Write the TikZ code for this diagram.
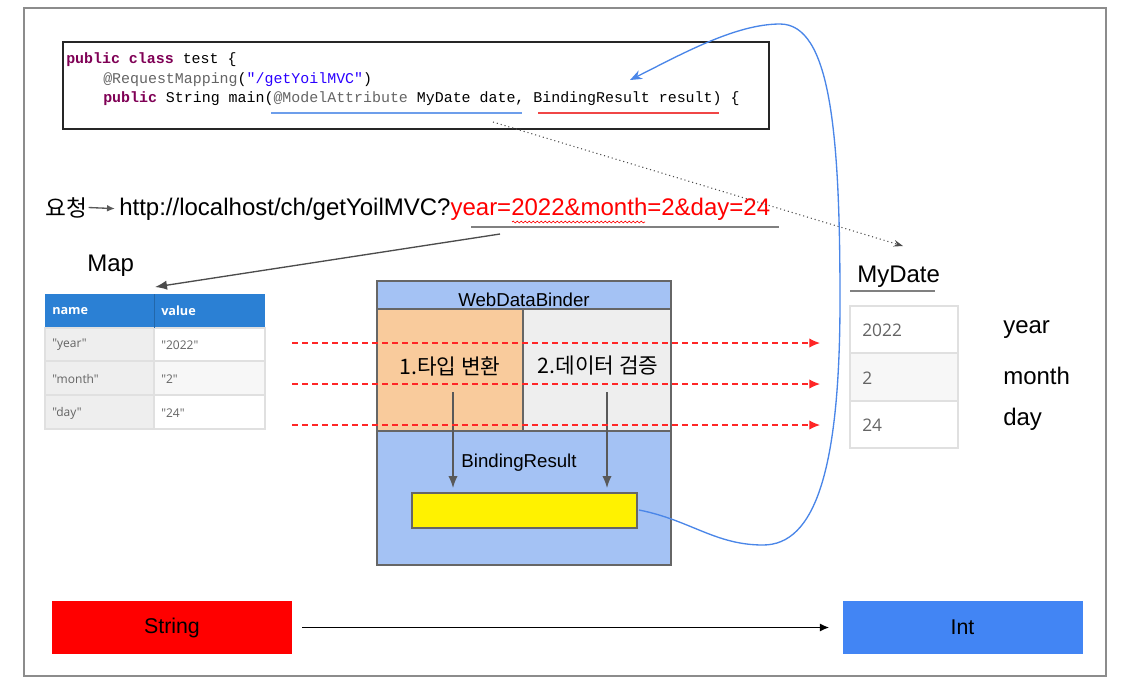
\documentclass[tikz,border=0pt]{standalone}
\usepackage{fontspec}
\setmainfont{Liberation Sans}
\setmonofont{Liberation Mono}
\newfontfamily\kor{Noto Sans CJK KR}
\newfontfamily\opensans{Open Sans}
\usepackage{tikz}
\usetikzlibrary{arrows.meta}
\usetikzlibrary{decorations.pathmorphing}
\definecolor{binderblue}{RGB}{164,194,244}
\definecolor{convorange}{RGB}{249,203,156}
\definecolor{checkgray}{RGB}{238,238,238}
\definecolor{tblue}{RGB}{43,128,212}
\definecolor{intblue}{RGB}{66,133,244}
\definecolor{keyword}{RGB}{127,0,85}
\definecolor{annot}{RGB}{100,100,100}
\definecolor{strblue}{RGB}{42,0,255}
\definecolor{linkblue}{RGB}{74,134,232}
\definecolor{ulblue}{RGB}{109,158,235}
\definecolor{ulred}{RGB}{240,70,70}
\definecolor{cellline}{RGB}{224,224,224}
\definecolor{celltext}{RGB}{100,100,100}
\definecolor{urlred}{RGB}{255,0,0}
\newcommand\codekw[1]{\textcolor{keyword}{\bfseries #1}}
\tikzset{bigtxt/.style={font=\fontsize{18}{21}\selectfont, inner sep=0pt}}
\tikzset{midtxt/.style={font=\fontsize{14}{17}\selectfont, inner sep=0pt}}
\tikzset{kortxt/.style={font=\kor\fontsize{16}{19}\selectfont, inner sep=0pt}}
\tikzset{codeline/.style={font=\ttfamily\fontsize{11.2}{13}\selectfont, anchor=base west, inner sep=0pt}}
\tikzset{celltxt/.style={font=\opensans\fontsize{9}{11}\selectfont, text=celltext, anchor=west, inner sep=0pt}}
\tikzset{valtxt/.style={font=\opensans\fontsize{13}{15}\selectfont, text=celltext, anchor=west, inner sep=0pt}}
\tikzset{boxline/.style={draw=black!60, line width=1pt}}
\tikzset{grayarrow/.style={-{Latex[length=9pt,width=7pt]}, draw=black!65, line width=1pt}}
\tikzset{redflow/.style={-{Latex[length=8pt,width=7pt]}, draw=urlred!85, dashed, dash pattern=on 4.5pt off 3pt, line width=0.9pt}}
\tikzset{typebox/.style={minimum width=180pt, minimum height=39.75pt, inner sep=0pt, font=\fontsize{16}{19}\selectfont}}

\begin{document}
\begin{tikzpicture}[x=0.75pt,y=-0.75pt]
		\useasboundingbox (0,0) rectangle (1131,687);
		\draw[draw=black!45, line width=0.8pt] (24,8) rectangle (1106,676);
		% code
		\draw[draw=black!85, line width=1.2pt] (63,42) rectangle (769,129);
		\node[codeline] (codeA) at (66,63) {\codekw{public class} test \{};
		\node[codeline] (codeB) at (103,83) {\textcolor{annot}{@RequestMapping}(\textcolor{strblue}{"/getYoilMVC"})};
		\node[codeline] (codeC) at (103,102) {\codekw{public} String main(\textcolor{annot}{@ModelAttribute} MyDate date, BindingResult result) \{};
		\draw[ulblue, line width=1.3pt] (271,113) -- (522,113);
		\draw[ulred, line width=1.3pt] (538,113) -- (719,113);
		\coordinate (codecut) at (493,122);
		\coordinate (resulttip) at (630,80);
		% request
		\node[bigtxt, font=\kor\fontsize{17}{20}\selectfont, anchor=base west] (request) at (45,216) {요청};
		\node[bigtxt, anchor=base west] (url) at (119,215) {http://localhost/ch/getYoilMVC?\textcolor{urlred}{year=2022\&month=2\&day=24}};
		\draw[-{Latex[length=6pt,width=5pt]}, draw=black!65, line width=1pt, shorten <=1pt, shorten >=3pt] (request.east) -- (url.west);
		\draw[urlred, line width=0.5pt, decorate, decoration={snake, amplitude=0.7pt, segment length=3pt}] (512,222) -- (645,222);
		\draw[black!50, line width=1.6pt] (471,227) -- (779,227);
		\coordinate (urlcut) at (500,234);
		% map
		\node[bigtxt, anchor=base west] (maplabel) at (87,271) {Map};
		\coordinate (maptop) at (155,287);
		\draw[grayarrow, draw=black!70] (urlcut) -- (maptop);
		\fill[tblue] (45,294) rectangle (265,328);
		\fill[checkgray] (45,328) rectangle (154,429);
		\fill[black!3] (154,361) rectangle (265,395);
		\draw[cellline, line width=0.8pt] (45,328) rectangle (265,429);
		\draw[cellline, line width=0.8pt] (154,328) -- (154,429);
		\draw[tblue!80!black, line width=0.6pt] (154,294) -- (154,328);
		\draw[cellline, line width=0.8pt] (45,361) -- (265,361);
		\draw[cellline, line width=0.8pt] (45,395) -- (265,395);
		\node[celltxt, text=white, font=\opensans\bfseries\fontsize{9.5}{11}\selectfont] (mapname) at (52,311) {name};
		\node[celltxt, text=white, font=\opensans\bfseries\fontsize{9.5}{11}\selectfont] (mapvalue) at (161,311) {value};
		\node[celltxt] (yearkey) at (52,345) {"year"};
		\node[celltxt] (yearval) at (161,345) {"2022"};
		\node[celltxt] (monthkey) at (52,379) {"month"};
		\node[celltxt] (monthval) at (161,379) {"2"};
		\node[celltxt] (daykey) at (52,413) {"day"};
		\node[celltxt] (dayval) at (161,413) {"24"};
		% binder
		\draw[boxline, fill=binderblue] (377,281) rectangle (671,565);
		\draw[boxline, fill=convorange] (377,309) rectangle (523,431);
		\draw[boxline, fill=checkgray] (523,309) rectangle (671,431);
		\draw[boxline, fill=yellow] (412,493) rectangle (637,528);
		\node[midtxt] (binder) at (524,300) {WebDataBinder};
		\node[kortxt] (convert) at (450,366) {1.타입 변환};
		\node[kortxt] (validate) at (598,366) {2.데이터 검증};
		\node[midtxt] (bindres) at (519,463) {BindingResult};
		\coordinate (convfrom) at (453,392);
		\coordinate (convto) at (453,488);
		\coordinate (checkfrom) at (607,392);
		\coordinate (checkto) at (607,488);
		\draw[grayarrow] (convfrom) -- (convto);
		\draw[grayarrow] (checkfrom) -- (checkto);
		\coordinate (resultbar) at (639,510);
		% flows
		\draw[redflow] (292,343) -- (820,343);
		\draw[redflow] (292,384) -- (820,384);
		\draw[redflow] (292,425) -- (820,425);
		% mydate
		\node[bigtxt, anchor=base west] (mydate) at (857,282) {MyDate};
		\draw[black!50, line width=1.6pt] (850,291) -- (935,291);
		\coordinate (mydatetop) at (903,246);
		\draw[-{Stealth[length=7pt,width=5pt]}, draw=black!70, dash pattern=on 0.8pt off 2.2pt, line width=0.8pt] (codecut) -- (mydatetop);
		\fill[black!3] (850,353) rectangle (958,401);
		\draw[cellline, line width=1pt] (850,306) rectangle (958,448);
		\draw[cellline, line width=1pt] (850,353) -- (958,353);
		\draw[cellline, line width=1pt] (850,401) -- (958,401);
		\node[valtxt] (dateyear) at (862,330) {2022};
		\node[valtxt] (datemonth) at (862,378) {2};
		\node[valtxt] (dateday) at (862,425) {24};
		\node[bigtxt, anchor=base west] (yearlabel) at (1003,333) {year};
		\node[bigtxt, anchor=base west] (monthlabel) at (1003,384) {month};
		\node[bigtxt, anchor=base west] (daylabel) at (1003,425) {day};
		\draw[-{Stealth[length=9pt,width=7pt]}, draw=linkblue, line width=1pt] (resultbar) .. controls (690,520) and (715,545) .. (763,545) .. controls (815,545) and (840,470) .. (840,300) .. controls (840,130) and (830,24) .. (780,24) .. controls (735,24) and (680,55) .. (resulttip);
		% types
		\node[typebox, fill=urlred] (string) at (172,627.5) {String};
		\node[typebox, fill=intblue] (int) at (962.5,627.5) {Int};
		\draw[-{Latex[length=7pt,width=6pt]}, line width=1.1pt, shorten <=7.5pt, shorten >=9.75pt] (string) -- (int);
		\end{tikzpicture}
\end{document}
